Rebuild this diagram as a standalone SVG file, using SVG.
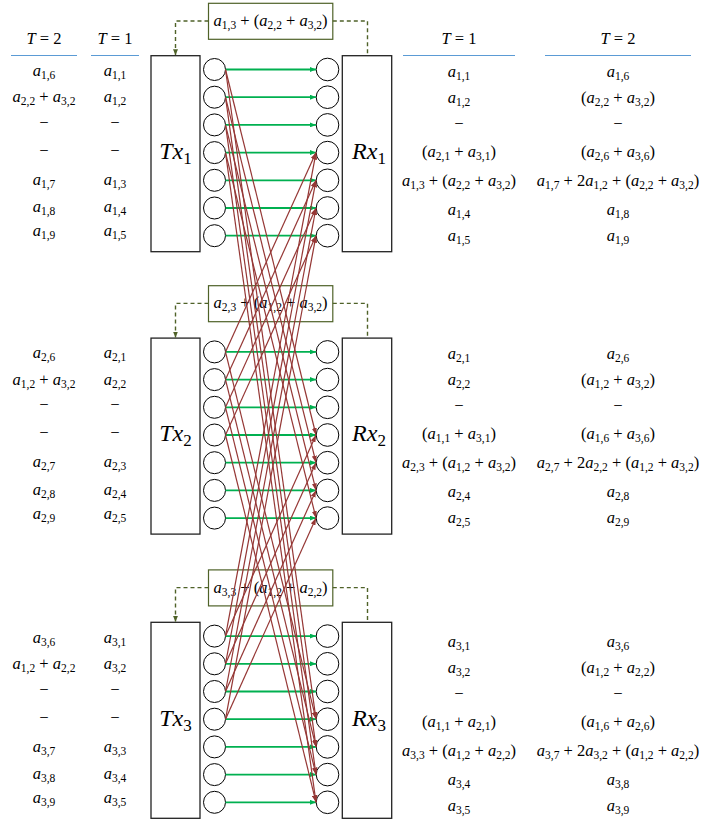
<svg xmlns="http://www.w3.org/2000/svg" width="709" height="821" viewBox="0 0 709 821">
<style>
.m{font-family:"Liberation Serif","DejaVu Serif",serif;font-size:16.5px;fill:#000;text-anchor:middle}
.i{font-style:italic}
.s{font-size:11.5px}
.big{font-family:"Liberation Serif","DejaVu Serif",serif;font-size:24px;fill:#000;text-anchor:middle;font-style:italic}
.bs{font-size:17px;font-style:normal}
.box{fill:#fff;stroke:#222;stroke-width:1.3}
.c{fill:#fff;stroke:#000;stroke-width:1}
.lab{fill:#fff;stroke:#4F6228;stroke-width:1.2}
.dash{fill:none;stroke:#4F6228;stroke-width:1.4;stroke-dasharray:4,3}
.hl{stroke:#5B9BD5;stroke-width:1.2}
.g{stroke:#00B050;stroke-width:1.8;fill:none}
.r{stroke:#953735;stroke-width:1.2;fill:none}
</style>
<defs>
<marker id="ag" viewBox="0 0 6 5" refX="6" refY="2.5" markerWidth="6" markerHeight="5" markerUnits="userSpaceOnUse" orient="auto"><path d="M0,0 L6,2.5 L0,5 z" fill="#00B050"/></marker>
<marker id="ar" viewBox="0 0 7 5" refX="7" refY="2.5" markerWidth="7" markerHeight="5" markerUnits="userSpaceOnUse" orient="auto"><path d="M0,0 L7,2.5 L0,5 z" fill="#953735"/></marker>
<marker id="ad" viewBox="0 0 6 5" refX="6" refY="2.5" markerWidth="6" markerHeight="5" markerUnits="userSpaceOnUse" orient="auto"><path d="M0,0 L6,2.5 L0,5 z" fill="#4F6228"/></marker>
</defs>
<rect width="709" height="821" fill="#fff"/>

<!-- headers -->
<g id="headers">
<text class="m" x="44" y="44"><tspan class="i">T</tspan> = 2</text>
<text class="m" x="115" y="44"><tspan class="i">T</tspan> = 1</text>
<text class="m" x="459" y="44"><tspan class="i">T</tspan> = 1</text>
<text class="m" x="618" y="44"><tspan class="i">T</tspan> = 2</text>
<line class="hl" x1="11" y1="55.5" x2="77" y2="55.5"/>
<line class="hl" x1="91" y1="55.5" x2="139" y2="55.5"/>
<line class="hl" x1="403" y1="55.5" x2="515" y2="55.5"/>
<line class="hl" x1="545" y1="55.5" x2="691" y2="55.5"/>
</g>

<!-- left tables -->
<g id="left1">
<text class="m" x="44" y="75.7"><tspan class="i">a</tspan><tspan class="s" dy="3">1,6</tspan></text>
<text class="m" x="44" y="102.3"><tspan class="i">a</tspan><tspan class="s" dy="3">2,2</tspan><tspan dy="-3"> + </tspan><tspan class="i">a</tspan><tspan class="s" dy="3">3,2</tspan></text>
<text class="m" x="44" y="127.8">−</text>
<text class="m" x="44" y="156.2">−</text>
<text class="m" x="44" y="185"><tspan class="i">a</tspan><tspan class="s" dy="3">1,7</tspan></text>
<text class="m" x="44" y="212.3"><tspan class="i">a</tspan><tspan class="s" dy="3">1,8</tspan></text>
<text class="m" x="44" y="236.3"><tspan class="i">a</tspan><tspan class="s" dy="3">1,9</tspan></text>
<text class="m" x="115" y="75.7"><tspan class="i">a</tspan><tspan class="s" dy="3">1,1</tspan></text>
<text class="m" x="115" y="102.3"><tspan class="i">a</tspan><tspan class="s" dy="3">1,2</tspan></text>
<text class="m" x="115" y="127.8">−</text>
<text class="m" x="115" y="156.2">−</text>
<text class="m" x="115" y="185"><tspan class="i">a</tspan><tspan class="s" dy="3">1,3</tspan></text>
<text class="m" x="115" y="212.3"><tspan class="i">a</tspan><tspan class="s" dy="3">1,4</tspan></text>
<text class="m" x="115" y="236.3"><tspan class="i">a</tspan><tspan class="s" dy="3">1,5</tspan></text>
</g>
<g id="left2" transform="translate(0,282.3)">
<text class="m" x="44" y="75.7"><tspan class="i">a</tspan><tspan class="s" dy="3">2,6</tspan></text>
<text class="m" x="44" y="102.3"><tspan class="i">a</tspan><tspan class="s" dy="3">1,2</tspan><tspan dy="-3"> + </tspan><tspan class="i">a</tspan><tspan class="s" dy="3">3,2</tspan></text>
<text class="m" x="44" y="127.8">−</text>
<text class="m" x="44" y="156.2">−</text>
<text class="m" x="44" y="185"><tspan class="i">a</tspan><tspan class="s" dy="3">2,7</tspan></text>
<text class="m" x="44" y="212.3"><tspan class="i">a</tspan><tspan class="s" dy="3">2,8</tspan></text>
<text class="m" x="44" y="236.3"><tspan class="i">a</tspan><tspan class="s" dy="3">2,9</tspan></text>
<text class="m" x="115" y="75.7"><tspan class="i">a</tspan><tspan class="s" dy="3">2,1</tspan></text>
<text class="m" x="115" y="102.3"><tspan class="i">a</tspan><tspan class="s" dy="3">2,2</tspan></text>
<text class="m" x="115" y="127.8">−</text>
<text class="m" x="115" y="156.2">−</text>
<text class="m" x="115" y="185"><tspan class="i">a</tspan><tspan class="s" dy="3">2,3</tspan></text>
<text class="m" x="115" y="212.3"><tspan class="i">a</tspan><tspan class="s" dy="3">2,4</tspan></text>
<text class="m" x="115" y="236.3"><tspan class="i">a</tspan><tspan class="s" dy="3">2,5</tspan></text>
</g>
<g id="left3" transform="translate(0,567)">
<text class="m" x="44" y="75.7"><tspan class="i">a</tspan><tspan class="s" dy="3">3,6</tspan></text>
<text class="m" x="44" y="102.3"><tspan class="i">a</tspan><tspan class="s" dy="3">1,2</tspan><tspan dy="-3"> + </tspan><tspan class="i">a</tspan><tspan class="s" dy="3">2,2</tspan></text>
<text class="m" x="44" y="127.8">−</text>
<text class="m" x="44" y="156.2">−</text>
<text class="m" x="44" y="185"><tspan class="i">a</tspan><tspan class="s" dy="3">3,7</tspan></text>
<text class="m" x="44" y="212.3"><tspan class="i">a</tspan><tspan class="s" dy="3">3,8</tspan></text>
<text class="m" x="44" y="236.3"><tspan class="i">a</tspan><tspan class="s" dy="3">3,9</tspan></text>
<text class="m" x="115" y="75.7"><tspan class="i">a</tspan><tspan class="s" dy="3">3,1</tspan></text>
<text class="m" x="115" y="102.3"><tspan class="i">a</tspan><tspan class="s" dy="3">3,2</tspan></text>
<text class="m" x="115" y="127.8">−</text>
<text class="m" x="115" y="156.2">−</text>
<text class="m" x="115" y="185"><tspan class="i">a</tspan><tspan class="s" dy="3">3,3</tspan></text>
<text class="m" x="115" y="212.3"><tspan class="i">a</tspan><tspan class="s" dy="3">3,4</tspan></text>
<text class="m" x="115" y="236.3"><tspan class="i">a</tspan><tspan class="s" dy="3">3,5</tspan></text>
</g>

<!-- right tables -->
<g id="right1">
<text class="m" x="459" y="76.7"><tspan class="i">a</tspan><tspan class="s" dy="3">1,1</tspan></text>
<text class="m" x="459" y="103"><tspan class="i">a</tspan><tspan class="s" dy="3">1,2</tspan></text>
<text class="m" x="459" y="128.5">−</text>
<text class="m" x="459" y="157.3">(<tspan class="i">a</tspan><tspan class="s" dy="3">2,1</tspan><tspan dy="-3"> + </tspan><tspan class="i">a</tspan><tspan class="s" dy="3">3,1</tspan><tspan dy="-3">)</tspan></text>
<text class="m" x="459" y="185.7"><tspan class="i">a</tspan><tspan class="s" dy="3">1,3</tspan><tspan dy="-3"> + (</tspan><tspan class="i">a</tspan><tspan class="s" dy="3">2,2</tspan><tspan dy="-3"> + </tspan><tspan class="i">a</tspan><tspan class="s" dy="3">3,2</tspan><tspan dy="-3">)</tspan></text>
<text class="m" x="459" y="214.7"><tspan class="i">a</tspan><tspan class="s" dy="3">1,4</tspan></text>
<text class="m" x="459" y="240.7"><tspan class="i">a</tspan><tspan class="s" dy="3">1,5</tspan></text>
<text class="m" x="618" y="76.7"><tspan class="i">a</tspan><tspan class="s" dy="3">1,6</tspan></text>
<text class="m" x="618" y="103">(<tspan class="i">a</tspan><tspan class="s" dy="3">2,2</tspan><tspan dy="-3"> + </tspan><tspan class="i">a</tspan><tspan class="s" dy="3">3,2</tspan><tspan dy="-3">)</tspan></text>
<text class="m" x="618" y="128.5">−</text>
<text class="m" x="618" y="157.3">(<tspan class="i">a</tspan><tspan class="s" dy="3">2,6</tspan><tspan dy="-3"> + </tspan><tspan class="i">a</tspan><tspan class="s" dy="3">3,6</tspan><tspan dy="-3">)</tspan></text>
<text class="m" x="618" y="185.7"><tspan class="i">a</tspan><tspan class="s" dy="3">1,7</tspan><tspan dy="-3"> + 2</tspan><tspan class="i">a</tspan><tspan class="s" dy="3">1,2</tspan><tspan dy="-3"> + (</tspan><tspan class="i">a</tspan><tspan class="s" dy="3">2,2</tspan><tspan dy="-3"> + </tspan><tspan class="i">a</tspan><tspan class="s" dy="3">3,2</tspan><tspan dy="-3">)</tspan></text>
<text class="m" x="618" y="214.7"><tspan class="i">a</tspan><tspan class="s" dy="3">1,8</tspan></text>
<text class="m" x="618" y="240.7"><tspan class="i">a</tspan><tspan class="s" dy="3">1,9</tspan></text>
</g>
<g id="right2" transform="translate(0,282)">
<text class="m" x="459" y="76.7"><tspan class="i">a</tspan><tspan class="s" dy="3">2,1</tspan></text>
<text class="m" x="459" y="103"><tspan class="i">a</tspan><tspan class="s" dy="3">2,2</tspan></text>
<text class="m" x="459" y="128.5">−</text>
<text class="m" x="459" y="157.3">(<tspan class="i">a</tspan><tspan class="s" dy="3">1,1</tspan><tspan dy="-3"> + </tspan><tspan class="i">a</tspan><tspan class="s" dy="3">3,1</tspan><tspan dy="-3">)</tspan></text>
<text class="m" x="459" y="185.7"><tspan class="i">a</tspan><tspan class="s" dy="3">2,3</tspan><tspan dy="-3"> + (</tspan><tspan class="i">a</tspan><tspan class="s" dy="3">1,2</tspan><tspan dy="-3"> + </tspan><tspan class="i">a</tspan><tspan class="s" dy="3">3,2</tspan><tspan dy="-3">)</tspan></text>
<text class="m" x="459" y="214.7"><tspan class="i">a</tspan><tspan class="s" dy="3">2,4</tspan></text>
<text class="m" x="459" y="240.7"><tspan class="i">a</tspan><tspan class="s" dy="3">2,5</tspan></text>
<text class="m" x="618" y="76.7"><tspan class="i">a</tspan><tspan class="s" dy="3">2,6</tspan></text>
<text class="m" x="618" y="103">(<tspan class="i">a</tspan><tspan class="s" dy="3">1,2</tspan><tspan dy="-3"> + </tspan><tspan class="i">a</tspan><tspan class="s" dy="3">3,2</tspan><tspan dy="-3">)</tspan></text>
<text class="m" x="618" y="128.5">−</text>
<text class="m" x="618" y="157.3">(<tspan class="i">a</tspan><tspan class="s" dy="3">1,6</tspan><tspan dy="-3"> + </tspan><tspan class="i">a</tspan><tspan class="s" dy="3">3,6</tspan><tspan dy="-3">)</tspan></text>
<text class="m" x="618" y="185.7"><tspan class="i">a</tspan><tspan class="s" dy="3">2,7</tspan><tspan dy="-3"> + 2</tspan><tspan class="i">a</tspan><tspan class="s" dy="3">2,2</tspan><tspan dy="-3"> + (</tspan><tspan class="i">a</tspan><tspan class="s" dy="3">1,2</tspan><tspan dy="-3"> + </tspan><tspan class="i">a</tspan><tspan class="s" dy="3">3,2</tspan><tspan dy="-3">)</tspan></text>
<text class="m" x="618" y="214.7"><tspan class="i">a</tspan><tspan class="s" dy="3">2,8</tspan></text>
<text class="m" x="618" y="240.7"><tspan class="i">a</tspan><tspan class="s" dy="3">2,9</tspan></text>
</g>
<g id="right3" transform="translate(0,570)">
<text class="m" x="459" y="76.7"><tspan class="i">a</tspan><tspan class="s" dy="3">3,1</tspan></text>
<text class="m" x="459" y="103"><tspan class="i">a</tspan><tspan class="s" dy="3">3,2</tspan></text>
<text class="m" x="459" y="128.5">−</text>
<text class="m" x="459" y="157.3">(<tspan class="i">a</tspan><tspan class="s" dy="3">1,1</tspan><tspan dy="-3"> + </tspan><tspan class="i">a</tspan><tspan class="s" dy="3">2,1</tspan><tspan dy="-3">)</tspan></text>
<text class="m" x="459" y="185.7"><tspan class="i">a</tspan><tspan class="s" dy="3">3,3</tspan><tspan dy="-3"> + (</tspan><tspan class="i">a</tspan><tspan class="s" dy="3">1,2</tspan><tspan dy="-3"> + </tspan><tspan class="i">a</tspan><tspan class="s" dy="3">2,2</tspan><tspan dy="-3">)</tspan></text>
<text class="m" x="459" y="214.7"><tspan class="i">a</tspan><tspan class="s" dy="3">3,4</tspan></text>
<text class="m" x="459" y="240.7"><tspan class="i">a</tspan><tspan class="s" dy="3">3,5</tspan></text>
<text class="m" x="618" y="76.7"><tspan class="i">a</tspan><tspan class="s" dy="3">3,6</tspan></text>
<text class="m" x="618" y="103">(<tspan class="i">a</tspan><tspan class="s" dy="3">1,2</tspan><tspan dy="-3"> + </tspan><tspan class="i">a</tspan><tspan class="s" dy="3">2,2</tspan><tspan dy="-3">)</tspan></text>
<text class="m" x="618" y="128.5">−</text>
<text class="m" x="618" y="157.3">(<tspan class="i">a</tspan><tspan class="s" dy="3">1,6</tspan><tspan dy="-3"> + </tspan><tspan class="i">a</tspan><tspan class="s" dy="3">2,6</tspan><tspan dy="-3">)</tspan></text>
<text class="m" x="618" y="185.7"><tspan class="i">a</tspan><tspan class="s" dy="3">3,7</tspan><tspan dy="-3"> + 2</tspan><tspan class="i">a</tspan><tspan class="s" dy="3">3,2</tspan><tspan dy="-3"> + (</tspan><tspan class="i">a</tspan><tspan class="s" dy="3">1,2</tspan><tspan dy="-3"> + </tspan><tspan class="i">a</tspan><tspan class="s" dy="3">2,2</tspan><tspan dy="-3">)</tspan></text>
<text class="m" x="618" y="214.7"><tspan class="i">a</tspan><tspan class="s" dy="3">3,8</tspan></text>
<text class="m" x="618" y="240.7"><tspan class="i">a</tspan><tspan class="s" dy="3">3,9</tspan></text>
</g>

<!-- label boxes -->
<g id="label1">
<rect class="lab" x="208.5" y="3.3" width="124.3" height="36"/>
<text class="m" x="270.6" y="26"><tspan class="i">a</tspan><tspan class="s" dy="3">1,3</tspan><tspan dy="-3"> + (</tspan><tspan class="i">a</tspan><tspan class="s" dy="3">2,2</tspan><tspan dy="-3"> + </tspan><tspan class="i">a</tspan><tspan class="s" dy="3">3,2</tspan><tspan dy="-3">)</tspan></text>
</g>
<g id="label2" transform="translate(0,282.4)">
<rect class="lab" x="208.5" y="3.3" width="124.3" height="36"/>
<text class="m" x="270.6" y="26"><tspan class="i">a</tspan><tspan class="s" dy="3">2,3</tspan><tspan dy="-3"> + (</tspan><tspan class="i">a</tspan><tspan class="s" dy="3">1,2</tspan><tspan dy="-3"> + </tspan><tspan class="i">a</tspan><tspan class="s" dy="3">3,2</tspan><tspan dy="-3">)</tspan></text>
</g>
<g id="label3" transform="translate(0,566.6)">
<rect class="lab" x="208.5" y="3.3" width="124.3" height="36"/>
<text class="m" x="270.6" y="26"><tspan class="i">a</tspan><tspan class="s" dy="3">3,3</tspan><tspan dy="-3"> + (</tspan><tspan class="i">a</tspan><tspan class="s" dy="3">1,2</tspan><tspan dy="-3"> + </tspan><tspan class="i">a</tspan><tspan class="s" dy="3">2,2</tspan><tspan dy="-3">)</tspan></text>
</g>

<!-- Tx / Rx nodes -->
<g id="tx1">
<rect class="box" x="151" y="55.7" width="49" height="196"/>
<text class="big" x="175.5" y="159">Tx<tspan class="bs" dy="5">1</tspan></text>
<circle class="c" cx="214.5" cy="69.5" r="11"/><circle class="c" cx="214.5" cy="97.2" r="11"/><circle class="c" cx="214.5" cy="124.9" r="11"/><circle class="c" cx="214.5" cy="152.6" r="11"/><circle class="c" cx="214.5" cy="180.3" r="11"/><circle class="c" cx="214.5" cy="208" r="11"/><circle class="c" cx="214.5" cy="235.7" r="11"/>
</g>
<g id="rx1">
<rect class="box" x="342.3" y="55.7" width="49.4" height="196"/>
<text class="big" x="369" y="159">Rx<tspan class="bs" dy="5">1</tspan></text>
<circle class="c" cx="327.5" cy="69.5" r="11.3"/><circle class="c" cx="327.5" cy="97.2" r="11.3"/><circle class="c" cx="327.5" cy="124.9" r="11.3"/><circle class="c" cx="327.5" cy="152.6" r="11.3"/><circle class="c" cx="327.5" cy="180.3" r="11.3"/><circle class="c" cx="327.5" cy="208" r="11.3"/><circle class="c" cx="327.5" cy="235.7" r="11.3"/>
</g>
<g id="tx2" transform="translate(0,282.4)">
<rect class="box" x="151" y="55.7" width="49" height="196"/>
<text class="big" x="175.5" y="159">Tx<tspan class="bs" dy="5">2</tspan></text>
<circle class="c" cx="214.5" cy="69.5" r="11"/><circle class="c" cx="214.5" cy="97.2" r="11"/><circle class="c" cx="214.5" cy="124.9" r="11"/><circle class="c" cx="214.5" cy="152.6" r="11"/><circle class="c" cx="214.5" cy="180.3" r="11"/><circle class="c" cx="214.5" cy="208" r="11"/><circle class="c" cx="214.5" cy="235.7" r="11"/>
</g>
<g id="rx2" transform="translate(0,282.4)">
<rect class="box" x="342.3" y="55.7" width="49.4" height="196"/>
<text class="big" x="369" y="159">Rx<tspan class="bs" dy="5">2</tspan></text>
<circle class="c" cx="327.5" cy="69.5" r="11.3"/><circle class="c" cx="327.5" cy="97.2" r="11.3"/><circle class="c" cx="327.5" cy="124.9" r="11.3"/><circle class="c" cx="327.5" cy="152.6" r="11.3"/><circle class="c" cx="327.5" cy="180.3" r="11.3"/><circle class="c" cx="327.5" cy="208" r="11.3"/><circle class="c" cx="327.5" cy="235.7" r="11.3"/>
</g>
<g id="tx3" transform="translate(0,566.6)">
<rect class="box" x="151" y="55.7" width="49" height="196"/>
<text class="big" x="175.5" y="159">Tx<tspan class="bs" dy="5">3</tspan></text>
<circle class="c" cx="214.5" cy="69.5" r="11"/><circle class="c" cx="214.5" cy="97.2" r="11"/><circle class="c" cx="214.5" cy="124.9" r="11"/><circle class="c" cx="214.5" cy="152.6" r="11"/><circle class="c" cx="214.5" cy="180.3" r="11"/><circle class="c" cx="214.5" cy="208" r="11"/><circle class="c" cx="214.5" cy="235.7" r="11"/>
</g>
<g id="rx3" transform="translate(0,566.6)">
<rect class="box" x="342.3" y="55.7" width="49.4" height="196"/>
<text class="big" x="369" y="159">Rx<tspan class="bs" dy="5">3</tspan></text>
<circle class="c" cx="327.5" cy="69.5" r="11.3"/><circle class="c" cx="327.5" cy="97.2" r="11.3"/><circle class="c" cx="327.5" cy="124.9" r="11.3"/><circle class="c" cx="327.5" cy="152.6" r="11.3"/><circle class="c" cx="327.5" cy="180.3" r="11.3"/><circle class="c" cx="327.5" cy="208" r="11.3"/><circle class="c" cx="327.5" cy="235.7" r="11.3"/>
</g>

<!-- connectors -->
<g id="connectors">
<g id="feedback">
<path class="dash" d="M208.5,21 H175.5 V55.2" marker-end="url(#ad)"/>
<path class="dash" d="M332.8,21 H367.5 V55.7"/>
<path class="dash" d="M208.5,303.4 H175.5 V337.6" marker-end="url(#ad)"/>
<path class="dash" d="M332.8,303.4 H367.5 V338.1"/>
<path class="dash" d="M208.5,587.6 H175.5 V621.8" marker-end="url(#ad)"/>
<path class="dash" d="M332.8,587.6 H367.5 V622.3"/>
</g>
<g id="green">
<path class="g" d="M225.5,69.5H316" marker-end="url(#ag)"/><path class="g" d="M225.5,97.2H316" marker-end="url(#ag)"/><path class="g" d="M225.5,124.9H316" marker-end="url(#ag)"/><path class="g" d="M225.5,152.6H316" marker-end="url(#ag)"/><path class="g" d="M225.5,180.3H316" marker-end="url(#ag)"/><path class="g" d="M225.5,208H316" marker-end="url(#ag)"/><path class="g" d="M225.5,235.7H316" marker-end="url(#ag)"/>
<path class="g" d="M225.5,351.9H316" marker-end="url(#ag)"/><path class="g" d="M225.5,379.6H316" marker-end="url(#ag)"/><path class="g" d="M225.5,407.3H316" marker-end="url(#ag)"/><path class="g" d="M225.5,435H316" marker-end="url(#ag)"/><path class="g" d="M225.5,462.7H316" marker-end="url(#ag)"/><path class="g" d="M225.5,490.4H316" marker-end="url(#ag)"/><path class="g" d="M225.5,518.1H316" marker-end="url(#ag)"/>
<path class="g" d="M225.5,636.1H316" marker-end="url(#ag)"/><path class="g" d="M225.5,663.8H316" marker-end="url(#ag)"/><path class="g" d="M225.5,691.5H316" marker-end="url(#ag)"/><path class="g" d="M225.5,719.2H316" marker-end="url(#ag)"/><path class="g" d="M225.5,746.9H316" marker-end="url(#ag)"/><path class="g" d="M225.5,774.6H316" marker-end="url(#ag)"/><path class="g" d="M225.5,802.3H316" marker-end="url(#ag)"/>
</g>
<g id="red">
<path class="r" d="M225.5,69.5L316,435" marker-end="url(#ar)"/>
<path class="r" d="M225.5,97.2L316,462.7" marker-end="url(#ar)"/>
<path class="r" d="M225.5,124.9L316,490.4" marker-end="url(#ar)"/>
<path class="r" d="M225.5,152.6L316,518.1" marker-end="url(#ar)"/>
<path class="r" d="M225.5,69.5L316,719.2" marker-end="url(#ar)"/>
<path class="r" d="M225.5,97.2L316,746.9" marker-end="url(#ar)"/>
<path class="r" d="M225.5,124.9L316,774.6" marker-end="url(#ar)"/>
<path class="r" d="M225.5,152.6L316,802.3" marker-end="url(#ar)"/>
<path class="r" d="M225.5,351.9L316,152.6" marker-end="url(#ar)"/>
<path class="r" d="M225.5,379.6L316,180.3" marker-end="url(#ar)"/>
<path class="r" d="M225.5,407.3L316,208" marker-end="url(#ar)"/>
<path class="r" d="M225.5,435L316,235.7" marker-end="url(#ar)"/>
<path class="r" d="M225.5,351.9L316,719.2" marker-end="url(#ar)"/>
<path class="r" d="M225.5,379.6L316,746.9" marker-end="url(#ar)"/>
<path class="r" d="M225.5,407.3L316,774.6" marker-end="url(#ar)"/>
<path class="r" d="M225.5,435L316,802.3" marker-end="url(#ar)"/>
<path class="r" d="M225.5,636.1L316,152.6" marker-end="url(#ar)"/>
<path class="r" d="M225.5,663.8L316,180.3" marker-end="url(#ar)"/>
<path class="r" d="M225.5,691.5L316,208" marker-end="url(#ar)"/>
<path class="r" d="M225.5,719.2L316,235.7" marker-end="url(#ar)"/>
<path class="r" d="M225.5,636.1L316,435" marker-end="url(#ar)"/>
<path class="r" d="M225.5,663.8L316,462.7" marker-end="url(#ar)"/>
<path class="r" d="M225.5,691.5L316,490.4" marker-end="url(#ar)"/>
<path class="r" d="M225.5,719.2L316,518.1" marker-end="url(#ar)"/>
</g>
</g>
</svg>
